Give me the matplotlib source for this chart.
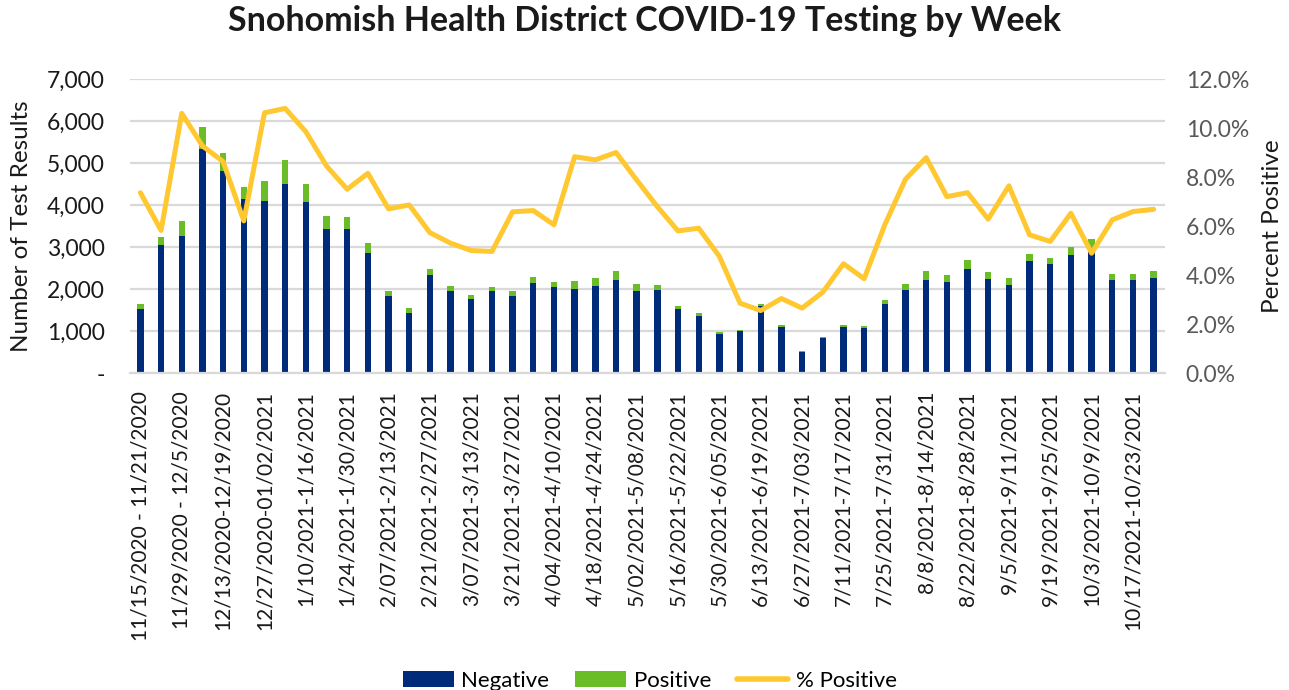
import matplotlib
matplotlib.use("Agg")
import matplotlib.pyplot as plt
from matplotlib.patches import Patch
from matplotlib.lines import Line2D
from matplotlib.ticker import FuncFormatter, MultipleLocator
import numpy as np

plt.rcParams['font.family'] = ['Lato', 'DejaVu Sans']

tick_labels = [
    "11/15/2020 - 11/21/2020", "11/29/2020 - 12/5/2020", "12/13/2020-12/19/2020",
    "12/27/2020-01/02/2021", "1/10/2021-1/16/2021", "1/24/2021-1/30/2021",
    "2/07/2021-2/13/2021", "2/21/2021-2/27/2021", "3/07/2021-3/13/2021",
    "3/21/2021-3/27/2021", "4/04/2021-4/10/2021", "4/18/2021-4/24/2021",
    "5/02/2021-5/08/2021", "5/16/2021-5/22/2021", "5/30/2021-6/05/2021",
    "6/13/2021-6/19/2021", "6/27/2021-7/03/2021", "7/11/2021-7/17/2021",
    "7/25/2021-7/31/2021", "8/8/2021-8/14/2021", "8/22/2021-8/28/2021",
    "9/5/2021-9/11/2021", "9/19/2021-9/25/2021", "10/3/2021-10/9/2021",
    "10/17/2021-10/23/2021",
]

negative = [1515, 3045, 3251, 5329, 4798, 4147, 4084, 4512, 4060, 3418,
            3434, 2847, 1824, 1435, 2324, 1951, 1753, 1943, 1824, 2133,
            2038, 1990, 2062, 2205, 1951, 1967, 1523, 1348, 920, 991,
            1586, 1094, 492, 825, 1094, 1078, 1634, 1967, 2220, 2157,
            2482, 2236, 2094, 2657, 2585, 2799, 2880, 2220, 2205, 2252]

positive = [135, 198, 373, 539, 452, 286, 476, 563, 452, 325,
            277, 254, 127, 111, 150, 111, 103, 95, 127, 159,
            135, 207, 206, 214, 166, 134, 79, 87, 63, 40,
            56, 48, 23, 39, 56, 48, 111, 158, 215, 167,
            214, 167, 166, 166, 159, 191, 316, 143, 158, 167]

pct_positive = [7.36, 5.82, 10.6, 9.27, 8.63, 6.21, 10.62, 10.8, 9.85, 8.45,
                7.5, 8.15, 6.7, 6.86, 5.73, 5.3, 5.0, 4.96, 6.58, 6.63,
                6.05, 8.83, 8.7, 9.0, 7.88, 6.79, 5.8, 5.91, 4.76, 2.85,
                2.55, 3.04, 2.65, 3.3, 4.46, 3.85, 6.05, 7.91, 8.79, 7.2,
                7.36, 6.28, 7.64, 5.64, 5.37, 6.52, 4.89, 6.25, 6.59, 6.68]

NAVY = '#002A7A'
GREEN = '#6BBD27'
YELLOW = '#FFC830'
GRID = '#D9D9D9'

fig = plt.figure(figsize=(12.89, 6.90), dpi=100)
ax = fig.add_axes([0.1009, 0.4594, 0.8029, 0.4261])

x = np.arange(len(negative))
w = 0.31
ax.bar(x, negative, width=w, color=NAVY, zorder=2)
ax.bar(x, positive, width=w, bottom=negative, color=GREEN, zorder=2)

ax.set_xlim(-0.5, len(negative) - 0.45)
ax.set_ylim(0, 7000)
ax.yaxis.set_major_locator(MultipleLocator(1000))
ax.yaxis.set_major_formatter(FuncFormatter(lambda v, p: '-' if v == 0 else f'{int(v):,}'))
ax.grid(axis='y', color=GRID, linewidth=1.6, zorder=0)
ax.set_axisbelow(True)
for s in ['top', 'right', 'left']:
    ax.spines[s].set_visible(False)
ax.spines['bottom'].set_color(GRID)
ax.spines['bottom'].set_linewidth(1.6)
ax.tick_params(axis='y', length=0, labelsize=16.5, labelcolor='#1a1a1a', pad=18)
ax.set_xticks(x[::2])
ax.set_xticklabels(tick_labels, rotation=90, fontsize=15, color='#1a1a1a')
ax.tick_params(axis='x', length=0, pad=13)
ax.set_ylabel('Number of Test Results', fontsize=17.5, color='#1a1a1a')
ax.yaxis.set_label_coords(-0.095, 0.5)

ax2 = ax.twinx()
ax2.plot(x, pct_positive, color=YELLOW, linewidth=3.6, solid_joinstyle='round',
         solid_capstyle='round', zorder=3)
ax2.set_ylim(0, 12)
ax2.yaxis.set_major_locator(MultipleLocator(2))
ax2.yaxis.set_major_formatter(FuncFormatter(lambda v, p: f'{v:.1f}%'))
for s in ['top', 'right', 'left', 'bottom']:
    ax2.spines[s].set_visible(False)
ax2.tick_params(axis='y', length=0, labelsize=16.5, labelcolor='#595959', pad=15)
ax2.set_ylabel('Percent Positive', fontsize=17.5, color='#1a1a1a')
ax2.yaxis.set_label_coords(1.094, 0.5)

fig.suptitle('Snohomish Health District COVID-19 Testing by Week', x=0.500, y=0.993,
             fontsize=24.5, fontweight='bold', color='#1a1a1a')

handles = [Patch(facecolor=NAVY, label='Negative'),
           Patch(facecolor=GREEN, label='Positive'),
           Line2D([0], [0], color=YELLOW, linewidth=4, solid_capstyle='round', label='% Positive')]
fig.legend(handles=handles, loc='lower center', bbox_to_anchor=(0.504, -0.03), ncol=3,
           frameon=False, fontsize=16, handlelength=2.3, handleheight=0.75,
           columnspacing=1.15, handletextpad=0.35)

fig.savefig('out.png', dpi=100)
